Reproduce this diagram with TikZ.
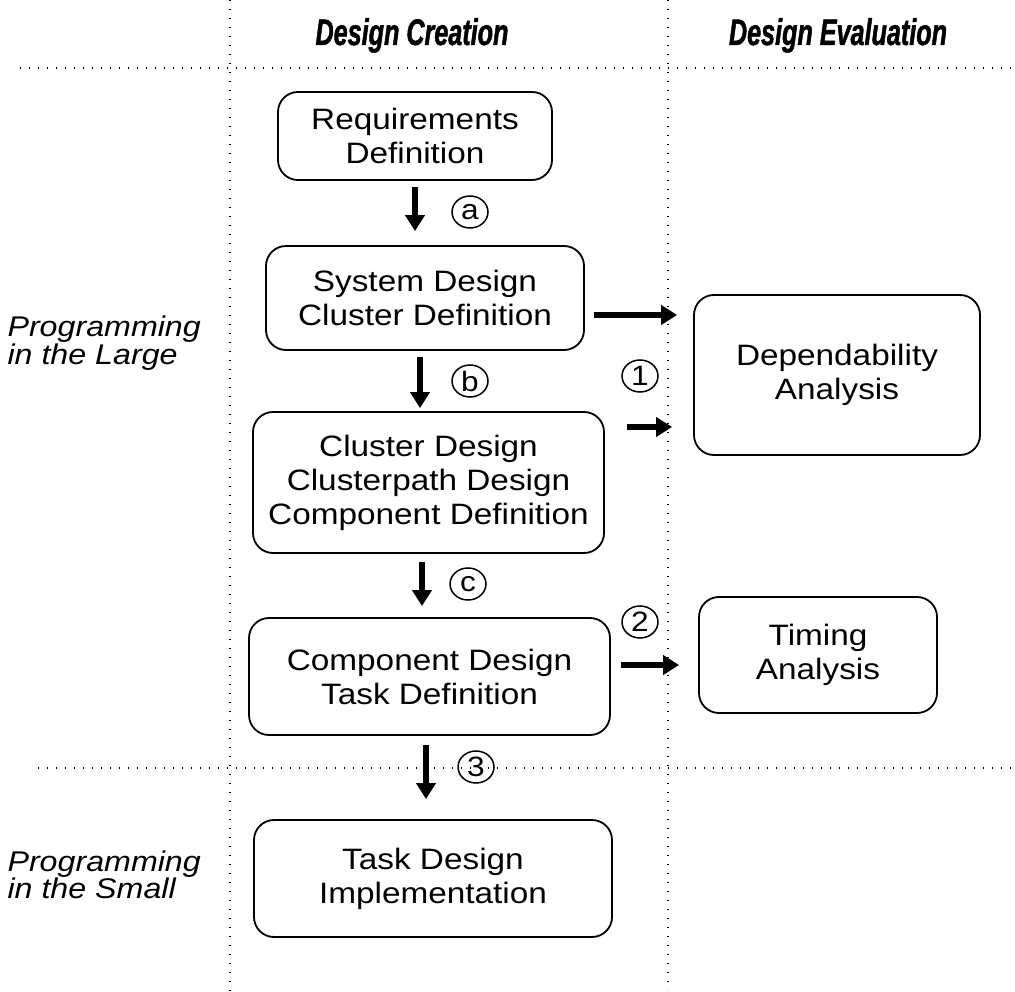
\documentclass[tikz,border=0pt]{standalone}
\usepackage{fontspec}
\setmainfont{Liberation Sans}[FakeStretch=1.13]
\newfontfamily\headfont{Liberation Sans}[FakeStretch=0.68, FakeBold=1.2]
\usetikzlibrary{arrows.meta,shapes.geometric}
\begin{document}
\begin{tikzpicture}[x=1pt,y=-1pt,
  stagebox/.style={draw, line width=1.8pt, rounded corners=20pt, align=center,
    font=\fontsize{29.5}{34}\selectfont, inner sep=0pt},
  flow/.style={line width=6.5pt, -{Triangle[width=19pt,length=16pt]}},
  tag/.style={draw, ellipse, line width=1.5pt, minimum width=36pt, minimum height=32pt,
    inner sep=0pt, font=\fontsize{28}{28}\selectfont},
  grid/.style={line width=1.4pt, dash pattern=on 1.4pt off 7.6pt},
  colhead/.style={anchor=base, font=\headfont\bfseries\itshape\fontsize{37}{40}\selectfont},
  rowhead/.style={anchor=west, align=left, font=\itshape\fontsize{28.5}{26}\selectfont}
]
\useasboundingbox (0,0) rectangle (1015,992);

% dotted separators between the columns and rows
\draw[grid] (230,0) -- (230,992);
\draw[grid] (668,0) -- (668,990);
\draw[grid] (20,68) -- (1015,68);
\draw[grid] (38,768) -- (1015,768);

% column and row headings
\node[colhead] (hcreate) at (412,45) {Design Creation};
\node[colhead] (heval) at (838,45) {Design Evaluation};
\node[rowhead] (large) at (4,343) {Programming\\in the Large};
\node[rowhead] (small) at (4,875) {Programming\\in the Small};

% design creation stages
\node[stagebox, minimum width=274pt, minimum height=88pt] (req) at (415,136)
  {Requirements\\Definition};
\node[stagebox, minimum width=318pt, minimum height=104pt] (sys) at (425,298)
  {System Design\\Cluster Definition};
\node[stagebox, minimum width=351pt, minimum height=141pt] (clu) at (428.5,482.5)
  {Cluster Design\\Clusterpath Design\\Component Definition};
\node[stagebox, minimum width=361pt, minimum height=117pt] (comp) at (429.5,676.5)
  {Component Design\\Task Definition};
\node[stagebox, minimum width=358pt, minimum height=117pt] (task) at (433,878.5)
  {Task Design\\Implementation};

% design evaluation
\node[stagebox, minimum width=286pt, minimum height=160pt] (dep) at (837,375)
  {Dependability\\Analysis};
\node[stagebox, minimum width=238pt, minimum height=116pt] (tim) at (818,655)
  {Timing\\Analysis};

% vertical flow lines
\coordinate (fa) at (415,0);
\coordinate (fb) at (420,0);
\coordinate (fc) at (422,0);
\coordinate (fd) at (426,0);
\draw[flow, shorten <=6pt, shorten >=14pt] (req.south -| fa) -- (sys.north -| fa);
\draw[flow, shorten <=6pt, shorten >=3pt] (sys.south -| fb) -- (clu.north -| fb);
\draw[flow, shorten <=8pt, shorten >=11pt] (clu.south -| fc) -- (comp.north -| fc);
\draw[flow, shorten <=9pt, shorten >=20pt] (comp.south -| fd) -- (task.north -| fd);

% horizontal flow lines into the evaluation column
\coordinate (ha) at (0,315);
\coordinate (hb) at (0,427);
\coordinate (hc) at (0,665);
\draw[flow, shorten <=9pt, shorten >=16pt] (sys.east |- ha) -- (dep.west |- ha);
\draw[flow, shorten <=22pt, shorten >=21pt] (clu.east |- hb) -- (dep.west |- hb);
\draw[flow, shorten <=10pt, shorten >=19pt] (comp.east |- hc) -- (tim.west |- hc);

% step tags
\node[tag] (ta) at (470,212) {a};
\node[tag] (tb) at (470,381) {b};
\node[tag] (tc) at (468,584) {c};
\node[tag] (t3) at (476,767) {3};
\node[tag] (t1) at (640,376) {1};
\node[tag] (t2) at (640,622) {2};
\end{tikzpicture}
\end{document}
